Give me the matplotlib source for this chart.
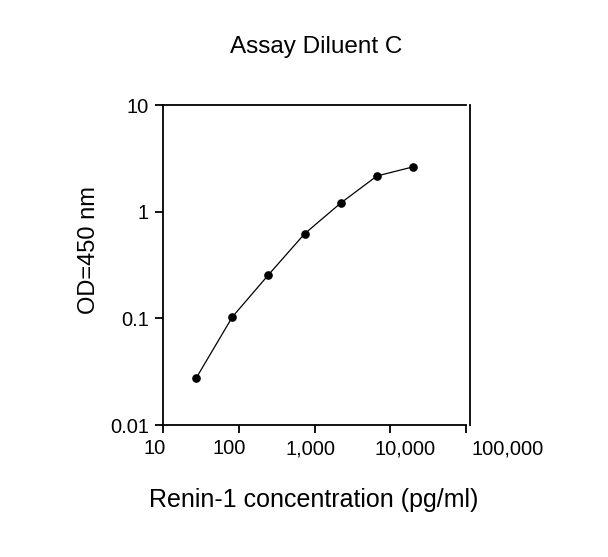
import matplotlib
matplotlib.use("Agg")
import matplotlib.pyplot as plt
import matplotlib.transforms as mtransforms
from matplotlib.ticker import FixedLocator, FuncFormatter, NullLocator, NullFormatter

concentration = [27.4, 82.3, 247, 741, 2222, 6667, 20000]
od450 = [0.0275, 0.103, 0.256, 0.621, 1.205, 2.16, 2.63]
x_ticks = [10, 100, 1000, 10000, 100000]
x_tick_labels = ["10", "100", "1,000", "10,000", "100,000"]
y_ticks = [0.01, 0.1, 1, 10]
y_tick_labels = ["0.01", "0.1", "1", "10"]

# horizontal offsets (pixels) of the x tick labels relative to their ticks, as in the reference
x_label_shift_px = [-8, -10, -4, 15, 42]

plt.rcParams['font.family'] = ['Liberation Sans', 'DejaVu Sans']

W, H = 608, 557
fig = plt.figure(figsize=(W/100, H/100), dpi=100)
ax = fig.add_axes([163/W, 1-425/H, (466-163)/W, (425-105)/H])

ax.plot(concentration, od450, color='black', lw=0.9, marker='o', ms=5.2,
        markerfacecolor='black', markeredgecolor='black', clip_on=False)

ax.set_xscale('log')
ax.set_yscale('log')
ax.set_xlim(10, 100000)
ax.set_ylim(0.01, 10)

ax.xaxis.set_major_locator(FixedLocator(x_ticks))
ax.xaxis.set_minor_locator(NullLocator())
ax.xaxis.set_major_formatter(NullFormatter())
ax.yaxis.set_major_locator(FixedLocator(y_ticks))
ax.yaxis.set_minor_locator(NullLocator())
ax.yaxis.set_major_formatter(FuncFormatter(
    lambda v, p: y_tick_labels[min(range(len(y_ticks)), key=lambda i: abs(y_ticks[i] - v))]))

ax.tick_params(axis='both', which='major', direction='out', length=6, width=1.3,
               labelsize=14.5, colors='black')
ax.tick_params(axis='y', pad=4)
for s in ax.spines.values():
    s.set_linewidth(1.3)
ax.spines['right'].set_position(('outward', 3))

blend = mtransforms.blended_transform_factory(ax.transData, ax.transAxes)
for xt, lab, dx in zip(x_ticks, x_tick_labels, x_label_shift_px):
    tr = blend + mtransforms.ScaledTranslation(dx/100, -24/100, fig.dpi_scale_trans)
    ax.text(xt, 0, lab, transform=tr, ha='center', va='center', fontsize=14.5, clip_on=False)

ax.set_xlabel('Renin-1 concentration (pg/ml)', fontsize=18, va='center')
ax.xaxis.set_label_coords((314-163)/303, (425-500)/320)
ax.set_ylabel('OD=450 nm', fontsize=17, va='center', ha='center')
ax.yaxis.set_label_coords((89-163)/303, (425-250)/320)
fig.text(316/W, 1-47/H, 'Assay Diluent C', fontsize=17.5, ha='center', va='center')

fig.savefig('out.png', dpi=100, facecolor='white')
